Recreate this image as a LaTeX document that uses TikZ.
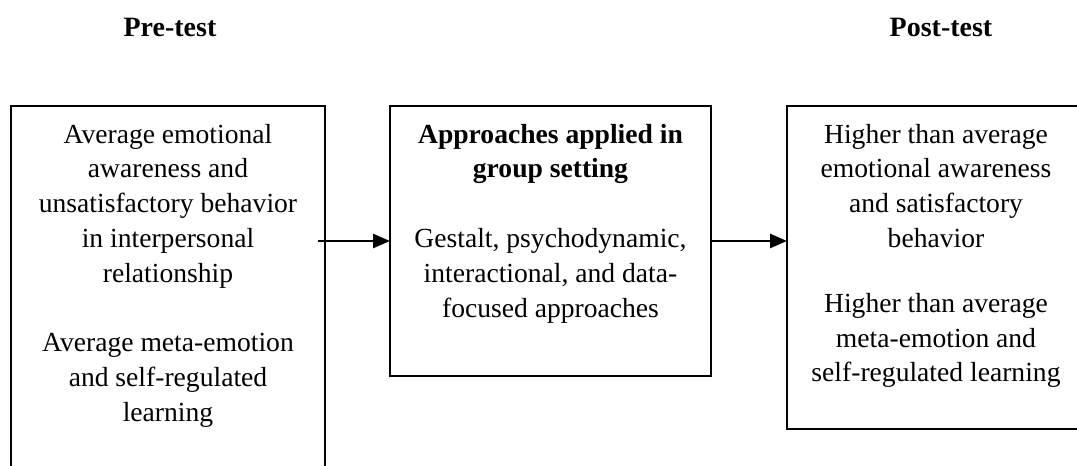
\documentclass[tikz,border=0pt]{standalone}
\usepackage{fontspec}
\setmainfont{Liberation Serif}
\usepackage{tikz}
\usetikzlibrary{arrows.meta,positioning}
\tikzset{
  stagebox/.style={draw=black,line width=1pt,inner sep=0pt,outer sep=0pt,anchor=north west},
  stagetext/.style={anchor=base,align=flush center,inner sep=0pt,font=\fontsize{13.8}{17.4}\selectfont},
  stagehead/.style={anchor=base,inner sep=0pt,font=\fontsize{14}{15}\selectfont\bfseries},
  stagearrow/.style={-{Triangle[length=8.5pt,width=7pt]},line width=1.3pt},
}

\begin{document}
\begin{tikzpicture}[x=0.5pt,y=-0.5pt]
  \useasboundingbox (0,0) rectangle (1077,466);
  \node[stagebox,minimum width=157pt,minimum height=187pt] (pre) at (11,106) {};
  \node[stagebox,minimum width=160.5pt,minimum height=135pt] (grp) at (390,106) {};
  \node[stagebox,minimum width=149pt,minimum height=161.5pt] (post) at (787,106) {};
  \node[stagehead] (prehead) at (170,36) {Pre-test};
  \node[stagehead] (posthead) at (941,36) {Post-test};
  \node[stagetext,text width=150pt] (pretext) at ([yshift=-18.5pt]pre.north) {Average emotional\\ awareness and\\ unsatisfactory behavior\\ in interpersonal\\ relationship\\[17.4pt] Average meta-emotion\\ and self-regulated\\ learning};
  \node[stagetext,text width=155pt] (grptext) at ([yshift=-18.5pt]grp.north) {\textbf{Approaches applied in}\\ \textbf{group setting}\\[17.4pt] Gestalt, psychodynamic,\\ interactional, and data-\\ focused approaches};
  \node[stagetext,text width=145pt] (posttext) at ([yshift=-18.5pt]post.north) {Higher than average\\ emotional awareness\\ and satisfactory\\ behavior\\[15pt] Higher than average\\ meta-emotion and\\ self-regulated learning};
  \coordinate (prestart) at ([xshift=-3.5pt]pre.east |- grp.west);
  \coordinate (postend) at (grp.east -| post.west);
  \draw[stagearrow] (prestart) -- (grp.west);
  \draw[stagearrow] (grp.east) -- (postend);
\end{tikzpicture}
\end{document}
